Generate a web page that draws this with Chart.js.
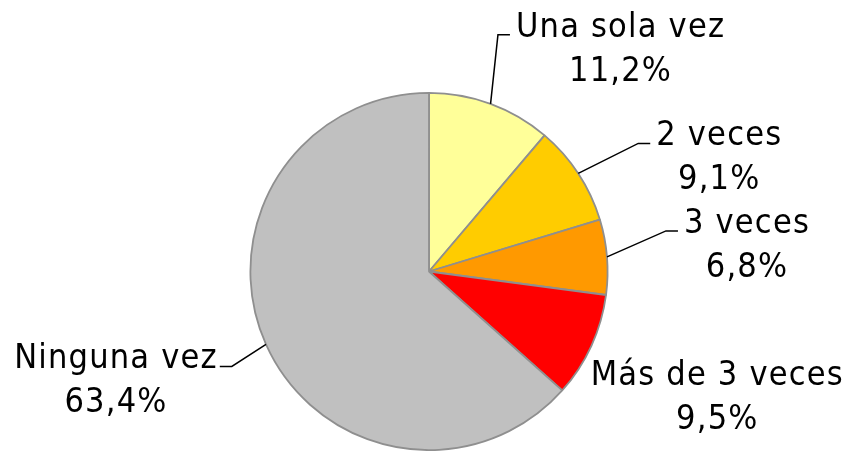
<!DOCTYPE html>
<html>
<head>
<meta charset="utf-8">
<script src="https://cdn.jsdelivr.net/npm/chart.js@4"></script>
<style>
  html, body { margin: 0; padding: 0; background: #fff; }
  #wrap { width: 849px; height: 451px; position: relative; }
</style>
</head>
<body>
<div id="wrap"><canvas id="pie"></canvas></div>
<script>
const categories = ['Una sola vez', '2 veces', '3 veces', 'Más de 3 veces', 'Ninguna vez'];
const percents = [11.2, 9.1, 6.8, 9.5, 63.4];
const percentLabels = ['11,2%', '9,1%', '6,8%', '9,5%', '63,4%'];
const sliceColors = ['#FFFF99', '#FFCC00', '#FF9900', '#FF0000', '#C0C0C0'];

// label placement: [dx, dy] from the slice's outer mid point to text centre x / first baseline
const labelOffsets = [[130, -67], [141, -28], [140, -24], [126, 39], [-150, 24]];
const labelLeader = [true, true, true, false, true];

const FONT = '34px "DejaVu Sans Condensed", "DejaVu Sans", sans-serif';
const LINE_GAP = 44;

const outsideLabels = {
  id: 'outsideLabels',
  afterDatasetsDraw(chart) {
    const ctx = chart.ctx;
    const arcs = chart.getDatasetMeta(0).data;
    ctx.save();
    ctx.font = FONT;
    ctx.letterSpacing = '1.2px';
    ctx.fillStyle = '#000';
    ctx.strokeStyle = '#000';
    ctx.lineWidth = 1.5;
    ctx.textAlign = 'center';
    ctx.textBaseline = 'alphabetic';
    arcs.forEach((arc, i) => {
      const p = arc.getProps(['x', 'y', 'startAngle', 'endAngle', 'outerRadius'], true);
      const mid = (p.startAngle + p.endAngle) / 2;
      const px = p.x + Math.cos(mid) * p.outerRadius;
      const py = p.y + Math.sin(mid) * p.outerRadius;
      const tx = px + labelOffsets[i][0];
      const ty = py + labelOffsets[i][1];
      ctx.fillText(categories[i], tx, ty);
      ctx.fillText(percentLabels[i], tx, ty + LINE_GAP);

      if (labelLeader[i]) {
        const w = ctx.measureText(categories[i]).width;
        const ly = ty - 2;
        let ex, bx;
        if (tx > px) {
          ex = tx - w / 2 - 6;
          bx = ex - 12;
        } else {
          ex = tx + w / 2 + 2;
          bx = ex + 12;
        }
        ctx.beginPath();
        ctx.moveTo(px, py);
        ctx.lineTo(bx, ly);
        ctx.lineTo(ex, ly);
        ctx.stroke();
      }
    });
    ctx.restore();
  }
};

new Chart(document.getElementById('pie'), {
  type: 'pie',
  data: {
    labels: categories,
    datasets: [{
      data: percents,
      backgroundColor: sliceColors,
      borderColor: '#8f8f8f',
      borderWidth: 1.8
    }]
  },
  options: {
    responsive: true,
    maintainAspectRatio: false,
    animation: false,
    layout: {
      padding: { left: 200, right: 191, top: 92, bottom: 0 }
    },
    plugins: {
      legend: { display: false },
      tooltip: { enabled: false }
    }
  },
  plugins: [outsideLabels]
});
</script>
</body>
</html>
